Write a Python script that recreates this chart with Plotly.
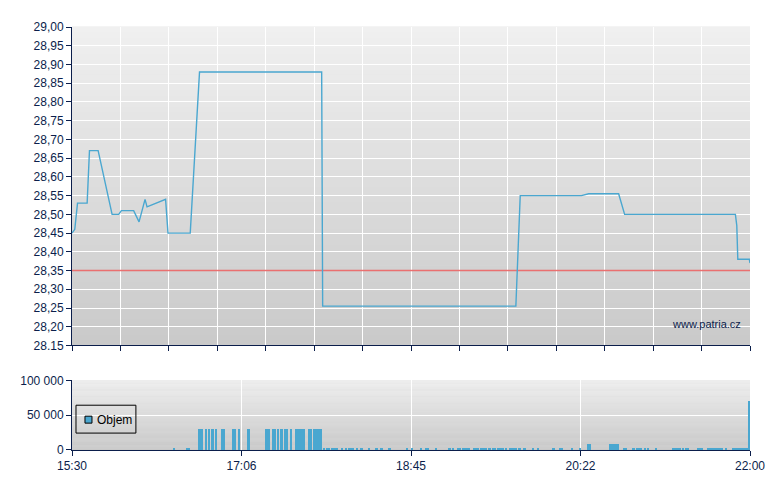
import plotly.graph_objects as go

# ---------------- data ----------------
SESSION_OPEN = "15:30:00"
SESSION_CLOSE = "22:00:00"

price_time = ["15:30:00", "15:31:36", "15:33:10", "15:38:43", "15:40:03", "15:45:02",
              "15:53:04", "15:56:52", "15:58:25", "16:05:28", "16:08:34", "16:12:01",
              "16:13:10", "16:23:50", "16:25:13", "16:38:01", "16:43:21", "17:53:37",
              "17:54:11", "19:45:19", "19:47:50", "20:23:02", "20:27:13", "20:44:26",
              "20:47:53", "21:51:36", "21:52:24", "21:52:59", "21:59:38", "22:00:00"]
price_value = [28.45, 28.46, 28.53, 28.53, 28.67, 28.67,
               28.50, 28.50, 28.51, 28.51, 28.48, 28.54,
               28.52, 28.54, 28.45, 28.45, 28.88, 28.88,
               28.255, 28.255, 28.55, 28.55, 28.555, 28.555,
               28.50, 28.50, 28.47, 28.38, 28.38, 28.37]
prev_close = 28.35

vol_from = ["16:28:16", "16:35:43",
            "16:42:37", "16:46:20", "16:48:04", "16:50:04", "16:52:22", "16:55:49",
            "17:02:08", "17:05:34", "17:10:44",
            "17:21:04", "17:24:55", "17:26:38", "17:27:58", "17:29:51", "17:31:48",
            "17:35:15", "17:38:28", "17:45:45", "17:48:48",
            "17:54:22", "17:56:22", "17:58:57", "18:04:41", "18:06:59", "18:09:00",
            "18:13:18", "18:15:36", "18:20:01", "18:24:47", "18:27:39", "18:31:30",
            "18:42:00", "18:44:52", "18:50:37", "18:52:55", "18:58:39", "19:06:17",
            "19:08:49", "19:11:17", "19:14:33", "19:17:46", "19:20:52", "19:23:10",
            "19:24:29", "19:29:28", "19:31:46", "19:34:38", "19:39:00", "19:41:18",
            "19:46:41", "19:49:55", "19:54:20", "19:57:36", "20:06:13", "20:10:24",
            "20:17:07", "20:21:29", "20:26:28", "20:39:06", "20:47:08", "20:52:18",
            "20:54:36", "20:59:11", "21:00:55", "21:05:31", "21:15:16", "21:21:01",
            "21:22:44", "21:29:37", "21:35:22", "21:45:42", "21:49:43", "21:59:25"]
vol_to = ["16:29:14", "16:37:51",
          "16:45:29", "16:47:29", "16:49:13", "16:51:41", "16:53:24", "16:57:56",
          "17:04:25", "17:06:50", "17:12:28",
          "17:24:07", "17:26:04", "17:27:33", "17:29:17", "17:31:14", "17:34:06",
          "17:36:24", "17:43:51", "17:48:03", "17:53:37",
          "17:55:31", "17:58:23", "18:02:58", "18:06:08", "18:08:08", "18:12:20",
          "18:14:27", "18:17:09", "18:21:10", "18:25:46", "18:28:38", "18:33:23",
          "18:43:19", "18:46:11", "18:51:35", "18:55:23", "18:59:48", "19:07:50",
          "19:09:44", "19:13:58", "19:17:25", "19:18:44", "19:22:46", "19:24:05",
          "19:28:54", "19:31:11", "19:34:04", "19:38:26", "19:40:23", "19:46:07",
          "19:48:01", "19:50:53", "19:55:39", "19:58:31", "20:08:06", "20:12:17",
          "20:18:26", "20:23:02", "20:28:46", "20:44:50", "20:49:26", "20:54:01",
          "20:58:02", "21:00:20", "21:02:04", "21:06:40", "21:20:26", "21:22:10",
          "21:25:02", "21:33:04", "21:44:33", "21:46:51", "21:59:25", "22:00:00"]
vol_value = [1500, 1500,
             30000, 30000, 30000, 30000, 30000, 30000,
             30000, 30000, 30000,
             30000, 30000, 30000, 30000, 30000, 30000,
             30000, 30000, 30000, 30000,
             3000, 3000, 3000, 3000, 3000, 3000,
             3000, 3000, 3000, 3000, 3000, 3000,
             3000, 3000, 3000, 3000, 3000, 3000,
             3000, 3000, 3000, 3000, 3000, 3000,
             3000, 3000, 3000, 3000, 3000, 3000,
             3000, 3000, 3000, 3000, 3000, 3000,
             3000, 3000, 8500, 8500, 3000, 3000,
             3000, 3000, 3000, 3000, 3000, 3000,
             3000, 3000, 3000, 3000, 3000, 70000]

price_tick_values = [28.15, 28.20, 28.25, 28.30, 28.35, 28.40, 28.45, 28.50, 28.55,
                     28.60, 28.65, 28.70, 28.75, 28.80, 28.85, 28.90, 28.95, 29.00]
price_tick_labels = ["28.15", "28,20", "28,25", "28,30", "28,35", "28,40", "28,45",
                     "28,50", "28,55", "28,60", "28,65", "28,70", "28,75", "28,80",
                     "28,85", "28,90", "28,95", "29,00"]
vol_tick_values = [0, 50000, 100000]
vol_tick_labels = ["0", "50 000", "100 000"]
time_tick_labels = ["15:30", "17:06", "18:45", "20:22", "22:00"]
legend_label = "Objem"
watermark = "www.patria.cz"


# ---------------- helpers ----------------
def mins(t):
    h, m, s = (int(v) for v in t.split(":"))
    return h * 60 + m + s / 60.0


T0 = mins(SESSION_OPEN)
T1 = mins(SESSION_CLOSE)
SPAN = T1 - T0

px = [mins(t) - T0 for t in price_time]
vx = [((mins(a) + mins(b)) / 2.0) - T0 for a, b in zip(vol_from, vol_to)]
vw = [mins(b) - mins(a) for a, b in zip(vol_from, vol_to)]

NAVY = "#0b1e4b"
BLUE = "#4aa7d0"
FONT = "Liberation Sans, Arial, sans-serif"

top_grid_ticks = [SPAN * i / 14 for i in range(15)]
bottom_ticks = [SPAN * i / 4 for i in range(5)]

fig = go.Figure()

fig.add_trace(go.Scatter(x=[0, SPAN], y=[prev_close, prev_close], mode="lines",
                         line=dict(color="rgba(232,96,96,0.9)", width=1.6),
                         xaxis="x", yaxis="y", hoverinfo="skip", showlegend=False))
fig.add_trace(go.Scatter(x=px, y=price_value, mode="lines",
                         line=dict(color=BLUE, width=1.4),
                         xaxis="x", yaxis="y", showlegend=False))
fig.add_trace(go.Bar(x=vx, y=vol_value, width=vw, marker=dict(color=BLUE, line=dict(width=0)),
                     xaxis="x2", yaxis="y2", showlegend=False, name=legend_label))

# gradient backgrounds
shapes = []
N = 60
for ax_x, ax_y, c_top, c_bot in (("x domain", "y domain", 240, 201),
                                  ("x2 domain", "y2 domain", 239, 200)):
    for i in range(N):
        f = (i + 0.5) / N
        c = int(round(c_bot + (c_top - c_bot) * f))
        shapes.append(dict(type="rect", xref=ax_x, yref=ax_y,
                           x0=0, x1=1, y0=i / N, y1=(i + 1) / N + 0.002,
                           fillcolor=f"rgb({c},{c},{c})", line=dict(width=0),
                           layer="below"))

# manual legend box (positions expressed relative to the volume panel)
L0, L1 = 71.0, 750.0
VB, VT = 450.0, 380.0
def dx(p):
    return (p - L0) / (L1 - L0)
def dy(p):
    return (VB - p) / (VB - VT)

shapes.append(dict(type="rect", xref="x2 domain", yref="y2 domain",
                   x0=dx(75), x1=dx(135), y0=dy(433), y1=dy(405),
                   line=dict(color="black", width=1), fillcolor="rgba(0,0,0,0)",
                   layer="above"))
shapes.append(dict(type="rect", xref="x2 domain", yref="y2 domain",
                   x0=dx(84), x1=dx(91), y0=dy(423), y1=dy(416),
                   line=dict(color="black", width=1), fillcolor=BLUE, layer="above"))

annotations = [
    dict(text=legend_label, xref="x2 domain", yref="y2 domain", x=dx(94), y=dy(419.5),
         xanchor="left", yanchor="middle", showarrow=False,
         font=dict(family=FONT, size=12, color="black")),
    dict(text=watermark, xref="x domain", yref="y domain", x=(743 - L0) / (L1 - L0),
         y=(345 - 323) / 320.0, xanchor="right", yanchor="middle", showarrow=False,
         font=dict(family=FONT, size=11, color=NAVY)),
]

axis_common = dict(showline=True, linecolor=NAVY, linewidth=1, ticks="outside",
                   ticklen=5, tickcolor=NAVY, tickwidth=1, zeroline=False,
                   gridcolor="white", gridwidth=1,
                   tickfont=dict(family=FONT, size=12, color=NAVY))

# page body has an 8px margin, so the figure is sized to fit the 780x490 window
fig.update_layout(
    width=772, height=482,
    margin=dict(l=63, r=30, t=17, b=40),
    paper_bgcolor="white", plot_bgcolor="#dddddd",
    showlegend=False,
    shapes=shapes, annotations=annotations,
    bargap=0,
    xaxis=dict(domain=[0, 1], range=[0, SPAN], anchor="y",
               tickvals=top_grid_ticks, showticklabels=False, **axis_common),
    yaxis=dict(domain=[105 / 425, 1], range=[28.15, 29.0], anchor="x",
               tickvals=price_tick_values, ticktext=price_tick_labels, **axis_common),
    xaxis2=dict(domain=[0, 1], range=[0, SPAN], anchor="y2",
                tickvals=bottom_ticks, ticktext=time_tick_labels, **axis_common),
    yaxis2=dict(domain=[0, 70 / 425], range=[0, 100000], anchor="x2",
                tickvals=vol_tick_values, ticktext=vol_tick_labels, **axis_common),
)

fig.write_html("out.html")
